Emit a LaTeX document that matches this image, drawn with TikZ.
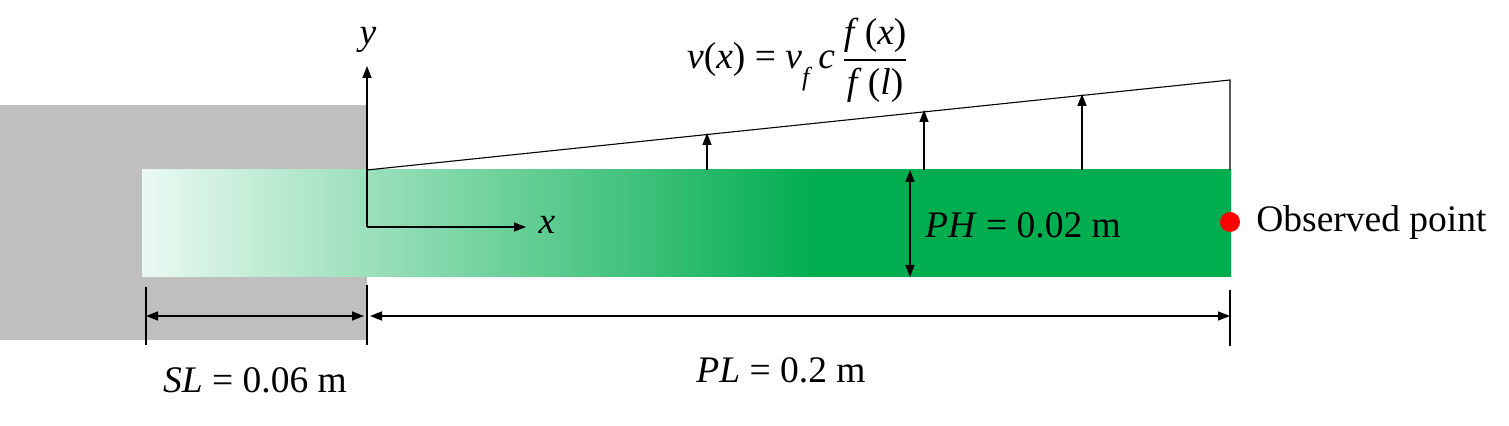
\documentclass[tikz,border=0pt]{standalone}
\usepackage{fontspec}
\setmainfont{Liberation Serif}
\usetikzlibrary{arrows.meta}
\definecolor{pgreen}{HTML}{00AD4F}
\definecolor{pgray}{HTML}{BFBFBF}
\definecolor{plight}{HTML}{EAF9F2}
\pgfdeclarehorizontalshading{plate}{100bp}{color(0bp)=(plight); color(25bp)=(plight); color(56bp)=(pgreen); color(100bp)=(pgreen)}
\begin{document}
\begin{tikzpicture}[x=0.5pt,y=-0.5pt,
  lab/.style={inner sep=0pt,font=\fontsize{18.75}{22}\selectfont},
  arr/.style={line width=0.75pt,-{Triangle[length=6pt,width=4.5pt]}},
  darr/.style={line width=0.75pt,{Triangle[length=6pt,width=4.5pt]}-{Triangle[length=6pt,width=4.5pt]}},
  tick/.style={line width=0.75pt},
  thin/.style={line width=0.55pt}]
\path[use as bounding box] (0,0) rectangle (1509,426);
% support block
\fill[pgray] (0,105) rectangle (367,340);
% plate with gradient
\shade[shading=plate] (142,170) rectangle (1231,277);
% coordinates
\coordinate (O) at (367,227);
\coordinate (ytip) at (367,66);
\coordinate (xtip) at (526,227);
\coordinate (L0) at (367,170);
\coordinate (L1) at (1230,80);
\coordinate (R0) at (1230,170);
\coordinate (a1b) at (707,170);
\coordinate (a1t) at (707,133);
\coordinate (a2b) at (924,170);
\coordinate (a2t) at (924,110);
\coordinate (a3b) at (1082,170);
\coordinate (a3t) at (1082,94);
\coordinate (phT) at (910,170);
\coordinate (phB) at (910,277);
\coordinate (t1a) at (146,287);
\coordinate (t1b) at (146,345);
\coordinate (t2a) at (367,285);
\coordinate (t2b) at (367,345);
\coordinate (t3a) at (1230,290);
\coordinate (t3b) at (1230,346);
\coordinate (s1) at (146,316);
\coordinate (s2) at (364,316);
\coordinate (p1) at (370,316);
\coordinate (p2) at (1230,316);
% axes
\draw[arr] (O) -- (ytip);
\draw[arr] (O) -- (xtip);
\node[lab] (ylab) at (368,40) {\textit{y}};
\node[lab] (xlab) at (547,225) {\textit{x}};
% velocity profile
\draw[thin] (L0) -- (L1) -- (R0);
\draw[arr] (a1b) -- (a1t);
\draw[arr] (a2b) -- (a2t);
\draw[arr] (a3b) -- (a3t);
\node[lab] (vel) at (798,60) {\textit{v}(\textit{x}) = \textit{v}\raisebox{-0.45em}{\fontsize{13}{13}\selectfont\textit{f}}\,\textit{c}\,$\displaystyle{\mbox{\textit{f}\,(\textit{x})}\above 1.1pt\mbox{\textit{f}\,(\textit{l})}}$};
% thickness
\draw[darr] (phT) -- (phB);
\node[lab] (ph) at (1023,225) {\textit{PH} = 0.02 m};
% observed point
\fill[red] (1230,222) circle (5pt);
\node[lab,anchor=west] (obs) at (1256,222) {Observed point};
% dimensions
\draw[tick] (t1a) -- (t1b);
\draw[tick] (t2a) -- (t2b);
\draw[tick] (t3a) -- (t3b);
\draw[darr] (s1) -- (s2);
\draw[darr] (p1) -- (p2);
\node[lab] (sl) at (255,380) {\textit{SL} = 0.06 m};
\node[lab] (pl) at (781,370) {\textit{PL} = 0.2 m};
\end{tikzpicture}
\end{document}
